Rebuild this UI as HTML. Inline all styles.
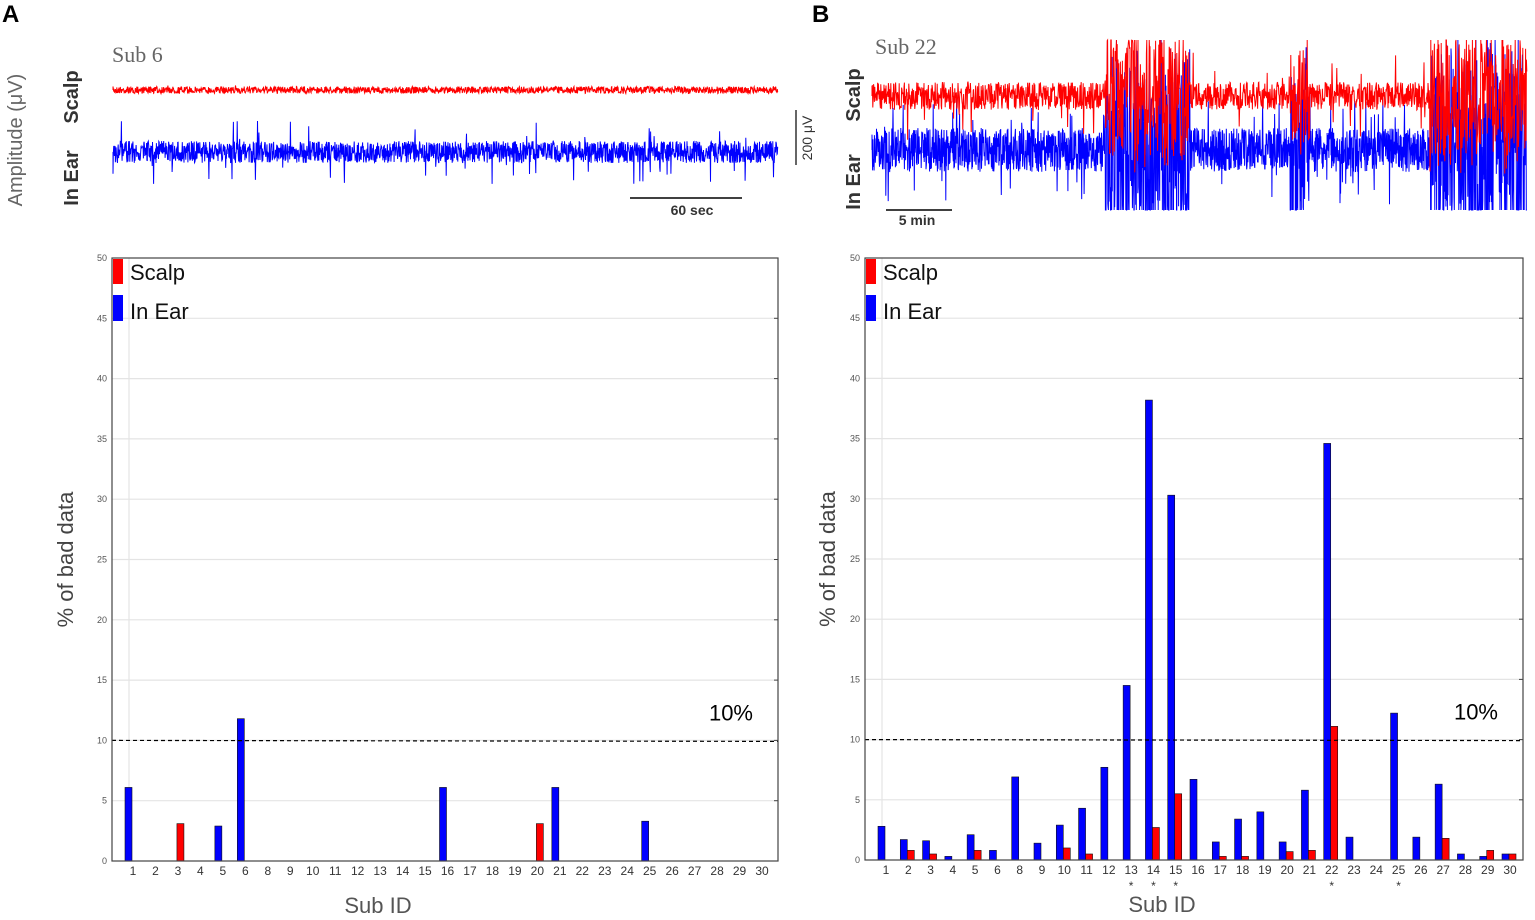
<!DOCTYPE html>
<html><head><meta charset="utf-8"><style>
body{margin:0;background:#fff;}
svg{display:block;font-family:"Liberation Sans",sans-serif;}
</style></head><body>
<svg id="s" width="1535" height="920"></svg>
<script>
const catsA=["1","2","3","4","5","6","8","9","10","11","12","13","14","15","16","17","18","19","20","21","22","23","24","25","26","27","28","29","30"];
const inEarA=[6.1,0,0,0,2.9,11.8,0,0,0,0,0,0,0,0,6.1,0,0,0,0,6.1,0,0,0,3.3,0,0,0,0,0];
const scalpA=[0,0,3.1,0,0,0,0,0,0,0,0,0,0,0,0,0,0,0,3.1,0,0,0,0,0,0,0,0,0,0];
const catsB=["1","2","3","4","5","6","8","9","10","11","12","13","14","15","16","17","18","19","20","21","22","23","24","25","26","27","28","29","30"];
const inEarB=[2.8,1.7,1.6,0.3,2.1,0.8,6.9,1.4,2.9,4.3,7.7,14.5,38.2,30.3,6.7,1.5,3.4,4.0,1.5,5.8,34.6,1.9,0,12.2,1.9,6.3,0.5,0.3,0.5];
const scalpB=[0,0.8,0.5,0,0.8,0,0,0,1.0,0.5,0,0,2.7,5.5,0,0.3,0.3,0,0.7,0.8,11.1,0,0,0,0,1.8,0,0.8,0.5];
const starsB=["13","14","15","22","25"];
const yTicks=[0,5,10,15,20,25,30,35,40,45,50];
const threshold=10;

const NS="http://www.w3.org/2000/svg";
const svg=document.getElementById('s');
function mk(t,a,p){const e=document.createElementNS(NS,t);for(const k in a)e.setAttribute(k,a[k]);(p||svg).appendChild(e);return e;}
function txt(x,y,s,a,p){const e=mk('text',Object.assign({x:x,y:y},a),p);e.textContent=s;return e;}

let seed=7;function rnd(){seed=(seed*16807)%2147483647;return seed/2147483647;}
function trace(x0,x1,yc,amp,col,spikeP,spikeAmp,name,bursts,step,lo,hi){
  const g=mk('g',{});
  
  
  let d='M'+x0+' '+yc;
  for(let x=x0;x<=x1;x+=step){
    let a=amp,sp=spikeP,sa=spikeAmp;
    if(bursts)for(const b of bursts)if(x>=b[0]&&x<=b[1]){a=b[2];sp=0.4;sa=b[2]*1.3;}
    let v=(rnd()-0.5)*2*a;
    if(rnd()<sp)v=(rnd()-0.5)*2*sa;
    let yy=Math.max(lo,Math.min(hi,yc+v));
    d+=' L'+x.toFixed(1)+' '+yy.toFixed(1);
  }
  mk('path',{d:d,stroke:col,'stroke-width':1,fill:'none'},g);
}

function panel(o){
  const {L,R,T,B,cats,blue,red,x1,x30,letter,lx,tag}=o;
  const g=mk('g',{});
  
  
  const y=v=>B-(v/50)*(B-T);
  const xs=i=>x1+i*(x30-x1)/(cats.length-1);
  yTicks.forEach(t=>{
    if(t>0&&t<50)mk('line',{x1:L,x2:R,y1:y(t),y2:y(t),stroke:'#e4e4e4','stroke-width':1.2},g);
    mk('line',{x1:R-4,x2:R,y1:y(t),y2:y(t),stroke:'#444'},g);
    const tl=txt(L-5,y(t)+3,String(t),{'font-size':9,fill:'#555','text-anchor':'end'},g);
    
    
  });
  mk('line',{x1:xs(0)-4,x2:xs(0)-4,y1:T,y2:B,stroke:'#e4e4e4','stroke-width':1.2},g);
  const bw=7;
  cats.forEach((c,i)=>{
    const cx=xs(i);
    if(blue[i]>0){const r=mk('rect',{x:cx-bw-1,y:y(blue[i]),width:bw,height:B-y(blue[i]),fill:'#0000ff',stroke:'#111','stroke-width':0.6},g);
      }
    if(red[i]>0){const r=mk('rect',{x:cx-1,y:y(red[i]),width:bw,height:B-y(red[i]),fill:'#ff0000',stroke:'#111','stroke-width':0.6},g);
      }
    const tl=txt(cx,B+14,c,{'font-size':12,fill:'#333','text-anchor':'middle'},g);
    
    
    if(o.stars&&o.stars.includes(c)){const st=txt(cx,B+30,'*',{'font-size':12,fill:'#333','text-anchor':'middle'},g);
      }
  });
  const dl=mk('line',{x1:L,x2:R,y1:y(threshold),y2:y(threshold)+1,stroke:'#000','stroke-width':1.2,'stroke-dasharray':'4,3'},g);
  
  const tt=txt(R-25,y(threshold)-20,'10%',{'font-size':22,'text-anchor':'end',fill:'#000'},g);
  
  mk('rect',{x:L,y:T,width:R-L,height:B-T,fill:'none',stroke:'#444','stroke-width':1.2},g);
  const lg=mk('g',{},g);
  
  mk('rect',{x:L+1,y:T+1,width:10,height:25,fill:'#ff0000'},lg);
  mk('rect',{x:L+1,y:T+37,width:10,height:26,fill:'#0000ff'},lg);
  txt(L+18,T+22,'Scalp',{'font-size':22,fill:'#111'},lg);
  txt(L+18,T+61,'In Ear',{'font-size':22,fill:'#111'},lg);
  const yl=txt(0,0,'% of bad data',{'font-size':22,fill:'#444','text-anchor':'middle',transform:'translate('+o.ytx+','+((T+B)/2)+') rotate(-90)'},g);
  
  const xl=txt(o.xtx,B+52,'Sub ID',{'font-size':22,fill:'#555','text-anchor':'middle'},g);
  
  const pl=txt(lx,22,letter,{'font-size':24,'font-weight':'bold',fill:'#000'});
  
}

panel({L:112,R:778,T:258,B:861,cats:catsA,blue:inEarA,red:scalpA,x1:133,x30:762,letter:'A',lx:2,tag:'a',ytx:73,xtx:378});
panel({L:865,R:1523,T:258,B:860,cats:catsB,blue:inEarB,red:scalpB,x1:886,x30:1510,letter:'B',lx:812,tag:'b',stars:starsB,ytx:835,xtx:1162});

let t=txt(112,62,'Sub 6',{'font-size':22,fill:'#666','font-family':'Liberation Serif'});

t=txt(0,0,'Amplitude (μV)',{'font-size':20,fill:'#666','text-anchor':'middle',transform:'translate(22,140) rotate(-90)'});

t=txt(0,0,'Scalp',{'font-size':20,'font-weight':'bold',fill:'#333','text-anchor':'middle',transform:'translate(78,97) rotate(-90)'});

t=txt(0,0,'In Ear',{'font-size':20,'font-weight':'bold',fill:'#333','text-anchor':'middle',transform:'translate(78,178) rotate(-90)'});

trace(113,778,90,3.5,'#ff0000',0.002,6,'scalp-trace-a',null,0.35,0,300);
trace(113,778,152,11,'#0000ff',0.04,32,'in-ear-trace-a',null,0.35,90,210);
mk('line',{x1:630,x2:742,y1:198,y2:198,stroke:'#000','stroke-width':1.5});
t=txt(692,215,'60 sec',{'font-size':14,'font-weight':'bold',fill:'#333','text-anchor':'middle'});

mk('line',{x1:796,x2:796,y1:110,y2:165,stroke:'#000','stroke-width':1.2});
t=txt(0,0,'200 μV',{'font-size':14,fill:'#333','text-anchor':'middle',transform:'translate(812,138) rotate(-90)'});


t=txt(875,54,'Sub 22',{'font-size':22,fill:'#666','font-family':'Liberation Serif'});

t=txt(0,0,'Scalp',{'font-size':20,'font-weight':'bold',fill:'#333','text-anchor':'middle',transform:'translate(860,95) rotate(-90)'});

t=txt(0,0,'In Ear',{'font-size':20,'font-weight':'bold',fill:'#333','text-anchor':'middle',transform:'translate(860,182) rotate(-90)'});

const artB=[[1105,1190,90],[1290,1310,80],[1430,1527,90]];
const artR=[[1105,1190,60],[1290,1310,50],[1430,1527,60]];
trace(872,1527,150,22,'#0000ff',0.06,55,'in-ear-trace-b',artB,0.3,40,210);
trace(872,1527,96,14,'#ff0000',0.04,45,'scalp-trace-b',artR,0.4,40,210);
mk('line',{x1:886,x2:952,y1:210,y2:210,stroke:'#000','stroke-width':1.5});
t=txt(917,225,'5 min',{'font-size':14,'font-weight':'bold',fill:'#333','text-anchor':'middle'});

</script>
</body></html>
